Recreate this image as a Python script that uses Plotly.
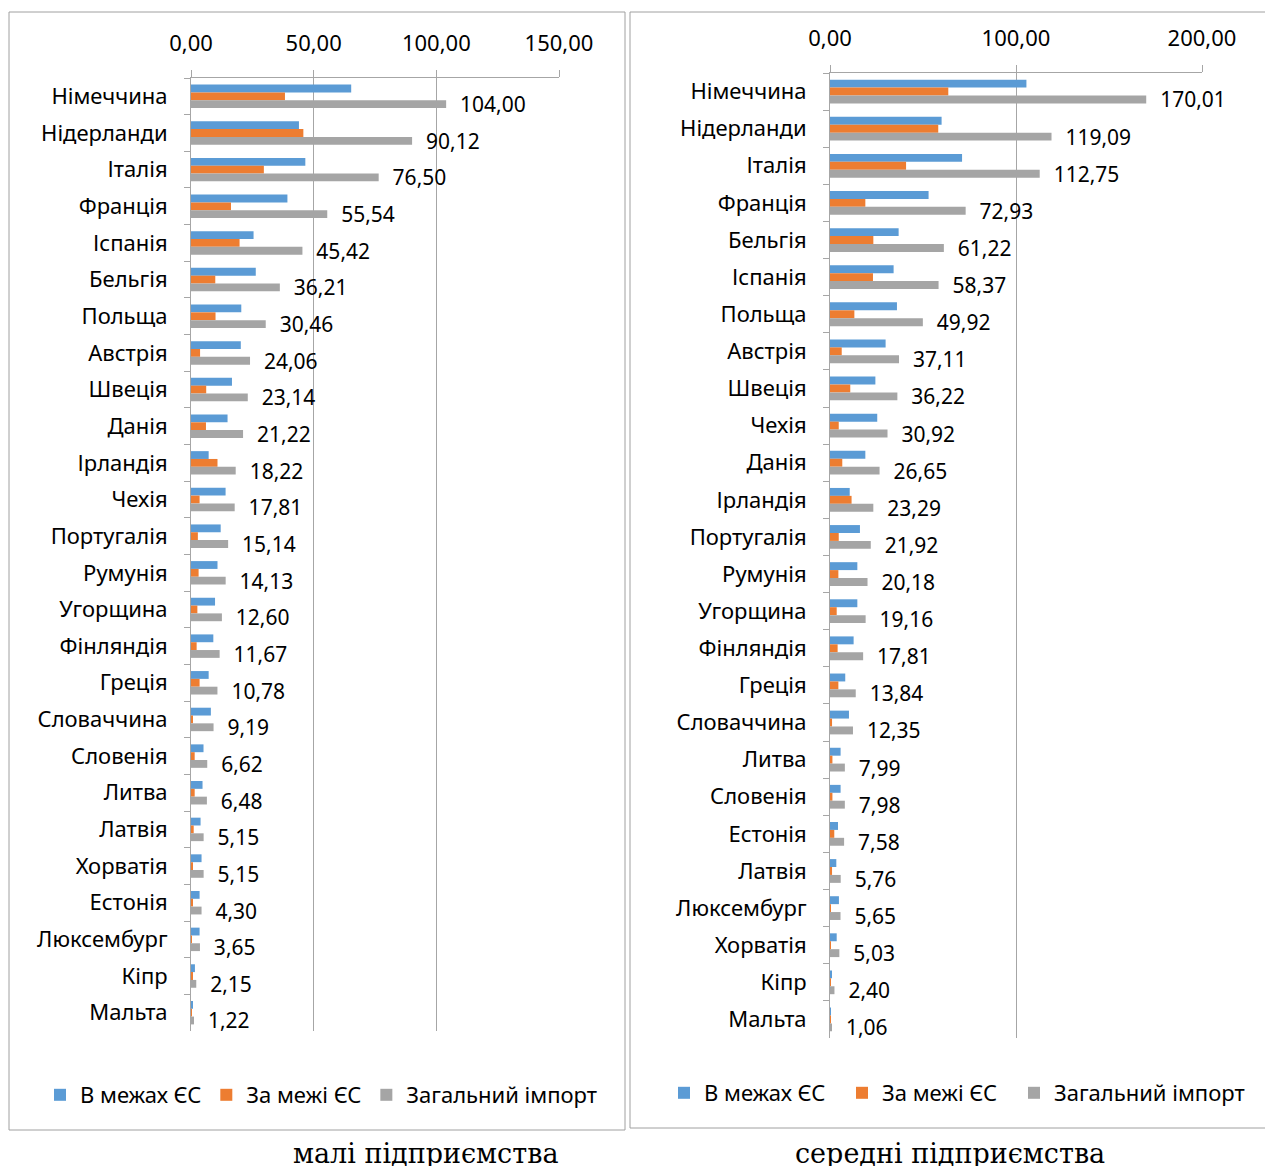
import plotly.graph_objects as go

# ---------------- data: small enterprises ----------------
small_countries = ["Німеччина", "Нідерланди", "Італія", "Франція", "Іспанія", "Бельгія",
                   "Польща", "Австрія", "Швеція", "Данія", "Ірландія", "Чехія",
                   "Португалія", "Румунія", "Угорщина", "Фінляндія", "Греція",
                   "Словаччина", "Словенія", "Литва", "Латвія", "Хорватія", "Естонія",
                   "Люксембург", "Кіпр", "Мальта"]
small_within_eu = [65.3, 44.0, 46.6, 39.3, 25.5, 26.4, 20.5, 20.3, 16.7, 14.9, 7.2, 14.1,
                   12.1, 10.8, 9.8, 9.1, 7.2, 8.1, 5.1, 4.7, 3.9, 4.3, 3.5, 3.5, 1.6, 0.6]
small_outside_eu = [38.3, 45.8, 29.7, 16.3, 19.8, 9.9, 10.0, 3.7, 6.2, 6.1, 10.8, 3.5,
                    2.8, 3.1, 2.6, 2.3, 3.5, 0.8, 1.5, 1.5, 1.1, 0.7, 0.7, 0.1, 0.5, 0.4]
small_total = [104.00, 90.12, 76.50, 55.54, 45.42, 36.21, 30.46, 24.06, 23.14, 21.22,
               18.22, 17.81, 15.14, 14.13, 12.60, 11.67, 10.78, 9.19, 6.62, 6.48, 5.15,
               5.15, 4.30, 3.65, 2.15, 1.22]
small_ticks = [0, 50, 100, 150]

# ---------------- data: medium enterprises ----------------
medium_countries = ["Німеччина", "Нідерланди", "Італія", "Франція", "Бельгія", "Іспанія",
                    "Польща", "Австрія", "Швеція", "Чехія", "Данія", "Ірландія",
                    "Португалія", "Румунія", "Угорщина", "Фінляндія", "Греція",
                    "Словаччина", "Литва", "Словенія", "Естонія", "Латвія", "Люксембург",
                    "Хорватія", "Кіпр", "Мальта"]
medium_within_eu = [105.6, 60.0, 71.0, 53.0, 36.9, 34.2, 36.0, 29.9, 24.4, 25.4, 19.0, 10.6,
                    16.1, 14.7, 14.7, 12.7, 8.2, 10.2, 5.7, 5.7, 4.3, 3.4, 4.8, 3.6, 0.9, 0.2]
medium_outside_eu = [63.6, 58.2, 40.9, 19.0, 23.3, 23.1, 13.1, 6.3, 10.9, 4.7, 6.6, 11.6,
                     4.7, 4.5, 3.6, 4.1, 4.5, 1.1, 1.3, 1.3, 2.3, 1.1, 0.1, 0.4, 0.4, 0.1]
medium_total = [170.01, 119.09, 112.75, 72.93, 61.22, 58.37, 49.92, 37.11, 36.22, 30.92,
                26.65, 23.29, 21.92, 20.18, 19.16, 17.81, 13.84, 12.35, 7.99, 7.98, 7.58,
                5.76, 5.65, 5.03, 2.40, 1.06]
medium_ticks = [0, 100, 200]

series_names = ["В межах ЄС", "За межі ЄС", "Загальний імпорт"]
colors = ["#5B9BD5", "#ED7D31", "#A5A5A5"]
captions = ["малі підприємства", "середні підприємства"]

W, H = 1265, 1166
FONT = "Noto Sans"
LABEL_SIZE = 22
NUM_SIZE = 21
TICK_SIZE = 22
LEGEND_SIZE = 22


def fmt(v):
    return f"{v:.2f}".replace(".", ",")


def px_x(p):
    return p / W


def px_y(p):
    return 1 - p / H


fig = go.Figure()

panels = [
    (small_countries, [small_within_eu, small_outside_eu, small_total], "x", "y",
     ["legend", "legend", "legend"]),
    (medium_countries, [medium_within_eu, medium_outside_eu, medium_total], "x2", "y2",
     ["legend2", "legend3", "legend4"]),
]
for countries, vals, xa, ya, lgs in panels:
    for i, (name, col, v, lg) in enumerate(zip(series_names, colors, vals, lgs)):
        kw = {}
        if i == 2:
            kw = dict(text=["\u00a0\u00a0" + fmt(t) for t in v], textposition="outside",
                      textfont=dict(family=FONT, size=NUM_SIZE, color="#000"),
                      constraintext="none", cliponaxis=False)
        fig.add_trace(go.Bar(y=countries, x=v, orientation="h", name=name,
                             marker=dict(color=col, line=dict(width=0)),
                             xaxis=xa, yaxis=ya, legend=lg, hoverinfo="skip", **kw))

axis_common = dict(showline=True, linecolor="#A6A6A6", linewidth=1)
xcommon = dict(side="top", showgrid=True, gridcolor="#A6A6A6", gridwidth=1, zeroline=False,
               ticks="outside", ticklen=7, tickcolor="#A6A6A6", automargin=False,
               tickfont=dict(family=FONT, size=TICK_SIZE, color="#000"), ticklabelstandoff=10,
               **axis_common)
ycommon = dict(type="category", autorange="reversed", tickson="boundaries", ticks="outside",
               ticklen=6, tickcolor="#A6A6A6", showgrid=False, zeroline=False, automargin=False,
               tickfont=dict(family=FONT, size=LABEL_SIZE, color="#000"), ticklabelstandoff=18,
               **axis_common)


def legend_at(xpx, ypx):
    return dict(orientation="h", x=px_x(xpx), xanchor="left", y=px_y(ypx), yanchor="middle",
                font=dict(family=FONT, size=LEGEND_SIZE, color="#000"),
                bgcolor="rgba(0,0,0,0)", traceorder="normal")


fig.update_layout(
    width=W, height=H, margin=dict(l=0, r=0, t=0, b=0, autoexpand=False),
    paper_bgcolor="white", plot_bgcolor="white",
    barmode="group", bargap=0.36, bargroupgap=0.0,
    xaxis=dict(domain=[px_x(191), px_x(559)], range=[0, 150],
               tickvals=small_ticks, ticktext=[fmt(t) for t in small_ticks],
               anchor="y", **xcommon),
    yaxis=dict(domain=[px_y(1031), px_y(78)], anchor="x", **ycommon),
    xaxis2=dict(domain=[px_x(830), px_x(1202)], range=[0, 200],
                tickvals=medium_ticks, ticktext=[fmt(t) for t in medium_ticks],
                anchor="y2", **xcommon),
    yaxis2=dict(domain=[px_y(1038), px_y(73)], anchor="x2", **ycommon),
    legend=legend_at(40, 1095),
    legend2=legend_at(664, 1093),
    legend3=legend_at(842, 1093),
    legend4=legend_at(1014, 1093),
    font=dict(family=FONT, color="#000"),
)

# chart frames
fig.add_shape(type="rect", xref="paper", yref="paper", x0=px_x(9), x1=px_x(625),
              y0=px_y(1130), y1=px_y(12), line=dict(color="#A0A0A0", width=1))
fig.add_shape(type="rect", xref="paper", yref="paper", x0=px_x(630), x1=px_x(1275),
              y0=px_y(1128), y1=px_y(12), line=dict(color="#A0A0A0", width=1))

# captions
for cap, cx in zip(captions, [425, 950]):
    fig.add_annotation(text=cap, xref="paper", yref="paper", x=px_x(cx), y=px_y(1153),
                       xanchor="center", yanchor="middle", showarrow=False,
                       font=dict(family="DejaVu Serif", size=27, color="#000"))

fig.write_html("out.html")
